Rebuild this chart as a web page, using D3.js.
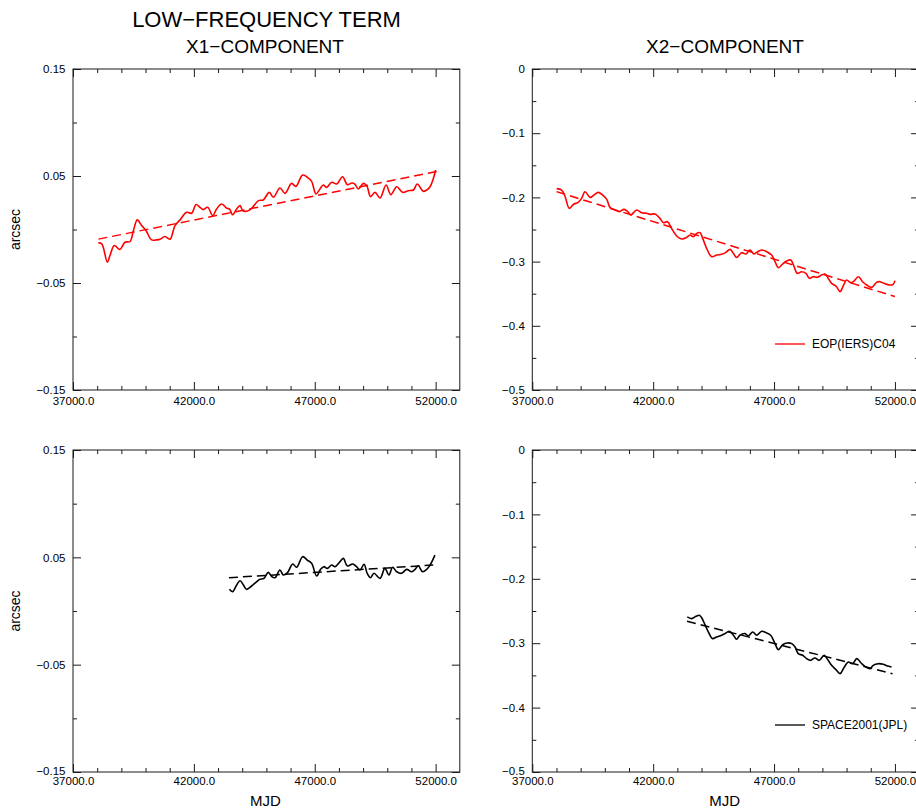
<!DOCTYPE html>
<html>
<head>
<meta charset="utf-8">
<script src="https://cdn.jsdelivr.net/npm/d3@7"></script>
<style>
  body { margin: 0; background: #fff; }
  svg text { font-family: "Liberation Sans", Arial, Helvetica, sans-serif; fill: #000; }
</style>
</head>
<body>
<svg id="chart" width="916" height="808"></svg>
<script>
// ---- axis definitions ----
const mjdDomain = [37000, 53000];
const mjdMajorTicks = [37000, 42000, 47000, 52000];
const mjdMinorTicks = [38000, 39000, 40000, 41000, 43000, 44000, 45000, 46000, 48000, 49000, 50000, 51000];

const x1Domain = [-0.15, 0.15];
const x1MajorTicks = [-0.15, -0.05, 0.05, 0.15];
const x1TickLabels = ["\u22120.15", "\u22120.05", "0.05", "0.15"];
const x1MinorTicks = [-0.1, 0, 0.1];

const x2Domain = [-0.5, 0];
const x2MajorTicks = [-0.5, -0.4, -0.3, -0.2, -0.1, 0];
const x2TickLabels = ["\u22120.5", "\u22120.4", "\u22120.3", "\u22120.2", "\u22120.1", "0"];
const x2MinorTicks = [-0.45, -0.35, -0.25, -0.15, -0.05];

// ---- EOP(IERS)C04 low-frequency term ----
const eopX1Mjd = [38050,38190,38420,38530,38710,38940,39150,39360,39500,39660,
  39840,40020,40250,40460,40600,40800,41010,41220,41430,41700,
  41910,42090,42250,42390,42570,42780,42940,43150,43360,43470,
  43600,43770,43910,44020,44180,44390,44670,44870,45120,45290,
  45560,45770,46040,46220,46500,46730,46870,47050,47190,47350,
  47490,47700,47910,48150,48350,48530,48660,48800,49010,49150,
  49310,49490,49700,49950,50150,50390,50640,50870,51080,51240,
  51490,51630,51770,51900,52000];
const eopX1 = [-0.0125,-0.0134,-0.0305,-0.0243,-0.015,-0.0187,-0.0119,-0.0112,-0.001,0.009,
  0.0037,-0.001,-0.0097,-0.0097,-0.0091,-0.0066,-0.0091,0.0037,0.009,0.0161,
  0.0152,0.0233,0.0208,0.0186,0.0208,0.013,0.0192,0.0239,0.0198,0.0192,
  0.0139,0.0192,0.0223,0.0177,0.017,0.0198,0.027,0.0276,0.0347,0.0301,
  0.0388,0.0338,0.0431,0.0403,0.0509,0.0481,0.045,0.0332,0.0369,0.0416,
  0.0394,0.0441,0.0425,0.0493,0.0419,0.0434,0.0425,0.0379,0.0431,0.041,
  0.0307,0.0347,0.0295,0.0416,0.0326,0.04,0.0347,0.0363,0.0369,0.0425,
  0.0357,0.0369,0.04,0.0472,0.0556];
const eopX1TrendMjd = [38050, 52050];
const eopX1Trend = [-0.009, 0.0543];

const eopX2Mjd = [38010,38215,38350,38530,38700,38900,39040,39180,39390,39550,
  39730,39910,40080,40210,40420,40600,40790,40930,41070,41320,
  41520,41730,41870,42080,42280,42420,42590,42760,42970,43180,
  43390,43520,43660,43800,43940,44050,44210,44420,44630,44830,
  45010,45180,45320,45450,45660,45840,46000,46170,46280,46490,
  46690,46900,47040,47180,47360,47520,47690,47820,47960,48140,
  48320,48460,48620,48790,48970,49110,49240,49380,49560,49730,
  49860,50000,50170,50280,50490,50660,50830,51040,51240,51380,
  51550,51770,51930,52000];
const eopX2 = [-0.1864,-0.1885,-0.1978,-0.217,-0.2108,-0.2077,-0.2015,-0.1911,-0.1999,-0.1963,
  -0.1921,-0.1963,-0.203,-0.2155,-0.2196,-0.2222,-0.2186,-0.2212,-0.2274,-0.2196,
  -0.2238,-0.2248,-0.2264,-0.2259,-0.2326,-0.2394,-0.2378,-0.2482,-0.2601,-0.2648,
  -0.2622,-0.2586,-0.2612,-0.256,-0.2549,-0.2638,-0.2793,-0.2923,-0.2897,-0.2887,
  -0.2856,-0.2809,-0.2871,-0.2934,-0.2861,-0.2882,-0.2819,-0.2882,-0.2856,-0.2819,
  -0.2845,-0.2897,-0.3001,-0.3095,-0.3037,-0.2991,-0.2975,-0.3069,-0.3183,-0.3157,
  -0.3183,-0.3261,-0.3235,-0.3245,-0.3209,-0.3193,-0.3261,-0.3339,-0.338,-0.3468,
  -0.338,-0.3287,-0.3328,-0.3313,-0.3235,-0.3313,-0.3364,-0.3401,-0.3323,-0.3313,
  -0.3339,-0.3364,-0.3354,-0.3297];
const eopX2TrendMjd = [38000, 52000];
const eopX2Trend = [-0.191, -0.3545];

// ---- SPACE2001(JPL) low-frequency term ----
const spaceX1Mjd = [43470,43600,43770,43910,44050,44180,44390,44600,44730,44900,
  45080,45220,45360,45560,45700,45870,46090,46250,46500,46690,
  46870,47080,47240,47380,47520,47700,47840,48020,48180,48350,
  48570,48730,48870,49040,49170,49310,49450,49700,49900,50070,
  50220,50390,50590,50800,51010,51150,51280,51460,51630,51770,
  51970];
const spaceX1 = [0.0202,0.018,0.0242,0.0282,0.0242,0.0202,0.0233,0.0273,0.0295,0.0304,
  0.036,0.032,0.031,0.0382,0.0335,0.0357,0.0438,0.0407,0.0506,0.0475,
  0.0444,0.0326,0.0388,0.0413,0.0397,0.0428,0.0413,0.0453,0.049,0.0419,
  0.0438,0.0413,0.0382,0.0435,0.0351,0.031,0.0351,0.0304,0.0397,0.0335,
  0.0407,0.0366,0.0351,0.0388,0.0366,0.0388,0.0422,0.0366,0.0388,0.0428,
  0.0521];
const spaceX1TrendMjd = [43450, 51900];
const spaceX1Trend = [0.031, 0.0428];

const spaceX2Mjd = [43410,43590,43770,43910,44000,44140,44280,44460,44620,44830,
  44970,45150,45320,45450,45590,45800,45930,46120,46280,46490,
  46670,46860,47040,47180,47360,47550,47730,47870,48000,48180,
  48350,48510,48690,48870,49070,49240,49380,49560,49730,49890,
  50070,50250,50420,50600,50760,50970,51100,51310,51520,51730,
  51860];
const spaceX2 = [-0.2592,-0.2618,-0.2582,-0.2566,-0.2602,-0.2711,-0.2825,-0.2929,-0.2903,-0.2877,
  -0.2851,-0.2815,-0.2877,-0.2939,-0.2877,-0.2851,-0.2888,-0.2825,-0.2877,-0.2815,
  -0.2836,-0.2877,-0.3007,-0.31,-0.3022,-0.2996,-0.3007,-0.3059,-0.3162,-0.3188,
  -0.324,-0.3266,-0.323,-0.3266,-0.3188,-0.3266,-0.3344,-0.3411,-0.3473,-0.338,
  -0.3292,-0.3318,-0.324,-0.3307,-0.3359,-0.3396,-0.3344,-0.3318,-0.3328,-0.3359,
  -0.337];
const spaceX2TrendMjd = [43400, 51900];
const spaceX2Trend = [-0.266, -0.3473];

// ---- drawing ----
const svg = d3.select("#chart");
const plotW = 386.8;

const panels = [
  { left: 73,    top: 69,  bottom: 390, yDomain: x1Domain, yMajor: x1MajorTicks, yLabels: x1TickLabels, yMinor: x1MinorTicks,
    mjd: eopX1Mjd, val: eopX1, tMjd: eopX1TrendMjd, tVal: eopX1Trend, color: "#ff0000", xPad: 7, yLift: 0, yTitle: "arcsec" },
  { left: 532.3, top: 69,  bottom: 390, yDomain: x2Domain, yMajor: x2MajorTicks, yLabels: x2TickLabels, yMinor: x2MinorTicks,
    mjd: eopX2Mjd, val: eopX2, tMjd: eopX2TrendMjd, tVal: eopX2Trend, color: "#ff0000", xPad: 7, yLift: 0, legend: "EOP(IERS)C04" },
  { left: 73,    top: 450, bottom: 772, yDomain: x1Domain, yMajor: x1MajorTicks, yLabels: x1TickLabels, yMinor: x1MinorTicks,
    mjd: spaceX1Mjd, val: spaceX1, tMjd: spaceX1TrendMjd, tVal: spaceX1Trend, color: "#000000", xPad: 4.5, yLift: 1.5, yTitle: "arcsec", xTitle: "MJD" },
  { left: 532.3, top: 450, bottom: 772, yDomain: x2Domain, yMajor: x2MajorTicks, yLabels: x2TickLabels, yMinor: x2MinorTicks,
    mjd: spaceX2Mjd, val: spaceX2, tMjd: spaceX2TrendMjd, tVal: spaceX2Trend, color: "#000000", xPad: 4.5, yLift: 1.5, legend: "SPACE2001(JPL)", xTitle: "MJD" }
];

const axisColor = "#1a1a1a";

function styleAxis(sel) {
  sel.select(".domain").remove();
  sel.selectAll(".tick line").attr("stroke", axisColor).attr("stroke-width", 1);
  sel.selectAll(".tick text").attr("font-size", "11.5px").attr("fill", "#000")
     .style("font-family", '"Liberation Sans", Arial, sans-serif');
}

panels.forEach(p => {
  const right = p.left + plotW;
  const x = d3.scaleLinear().domain(mjdDomain).range([p.left, right]);
  const y = d3.scaleLinear().domain(p.yDomain).range([p.bottom, p.top]);
  const g = svg.append("g");

  // frame
  g.append("rect").attr("x", p.left).attr("y", p.top)
    .attr("width", right - p.left).attr("height", p.bottom - p.top)
    .attr("fill", "none").attr("stroke", axisColor).attr("stroke-width", 1);

  // bottom axis with labels
  g.append("g").attr("transform", `translate(0,${p.bottom})`)
    .call(d3.axisBottom(x).tickValues(mjdMajorTicks).tickSize(-8).tickPadding(p.xPad).tickFormat(d3.format(".1f")))
    .call(styleAxis);
  g.append("g").attr("transform", `translate(0,${p.bottom})`)
    .call(d3.axisBottom(x).tickValues(mjdMinorTicks).tickSize(-4).tickFormat(""))
    .call(styleAxis);
  // top axis ticks
  g.append("g").attr("transform", `translate(0,${p.top})`)
    .call(d3.axisTop(x).tickValues(mjdMajorTicks).tickSize(-8).tickFormat(""))
    .call(styleAxis);
  g.append("g").attr("transform", `translate(0,${p.top})`)
    .call(d3.axisTop(x).tickValues(mjdMinorTicks).tickSize(-4).tickFormat(""))
    .call(styleAxis);
  // left axis with labels
  const leftAxis = g.append("g").attr("transform", `translate(${p.left},0)`)
    .call(d3.axisLeft(y).tickValues(p.yMajor).tickSize(-8).tickPadding(7.5)
      .tickFormat((d, i) => p.yLabels[i]))
    .call(styleAxis);
  // the lowest label sits just above the MJD labels
  leftAxis.selectAll(".tick text").filter((d) => d === p.yDomain[0]).attr("y", -p.yLift);
  g.append("g").attr("transform", `translate(${p.left},0)`)
    .call(d3.axisLeft(y).tickValues(p.yMinor).tickSize(-4).tickFormat(""))
    .call(styleAxis);
  // right axis ticks
  g.append("g").attr("transform", `translate(${right},0)`)
    .call(d3.axisRight(y).tickValues(p.yMajor).tickSize(-8).tickFormat(""))
    .call(styleAxis);
  g.append("g").attr("transform", `translate(${right},0)`)
    .call(d3.axisRight(y).tickValues(p.yMinor).tickSize(-4).tickFormat(""))
    .call(styleAxis);

  // series
  const line = d3.line().x(d => x(d[0])).y(d => y(d[1])).curve(d3.curveCatmullRom.alpha(0.5));
  const pts = p.mjd.map((m, i) => [m, p.val[i]]);
  g.append("path").datum(pts).attr("d", line)
    .attr("fill", "none").attr("stroke", p.color).attr("stroke-width", 1.6).attr("stroke-linejoin", "round");

  const trend = p.tMjd.map((m, i) => [m, p.tVal[i]]);
  g.append("path").datum(trend).attr("d", d3.line().x(d => x(d[0])).y(d => y(d[1])))
    .attr("fill", "none").attr("stroke", p.color).attr("stroke-width", 1.5).attr("stroke-dasharray", "9,5");

  // y title
  if (p.yTitle) {
    g.append("text").attr("transform", `translate(20,${(p.top + p.bottom) / 2}) rotate(-90)`)
      .attr("text-anchor", "middle").attr("font-size", "14px").text(p.yTitle);
  }
  // x title
  if (p.xTitle) {
    g.append("text").attr("x", (p.left + right) / 2 - 1).attr("y", 806)
      .attr("text-anchor", "middle").attr("font-size", "15px").text(p.xTitle);
  }
  // legend
  if (p.legend) {
    const ly = p.top + 275;
    g.append("line").attr("x1", 775).attr("x2", 805).attr("y1", ly).attr("y2", ly)
      .attr("stroke", p.color).attr("stroke-width", 1.3);
    g.append("text").attr("x", 812).attr("y", ly).attr("dy", "0.35em")
      .attr("font-size", "12px").text(p.legend);
  }
});

// titles
svg.append("text").attr("x", 266.5).attr("y", 27).attr("text-anchor", "middle")
  .attr("font-size", "22px").text("LOW\u2212FREQUENCY TERM");
svg.append("text").attr("x", 265).attr("y", 53).attr("text-anchor", "middle")
  .attr("font-size", "19px").text("X1\u2212COMPONENT");
svg.append("text").attr("x", 725).attr("y", 53).attr("text-anchor", "middle")
  .attr("font-size", "19px").text("X2\u2212COMPONENT");
</script>
</body>
</html>
